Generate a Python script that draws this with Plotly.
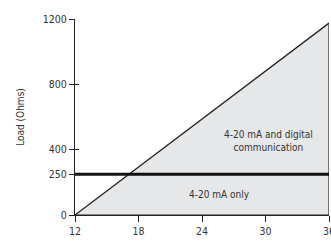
import plotly.graph_objects as go

# data
supply_v = [12, 36, 36]          # triangle corners (x)
max_load = [0, 0, 1175]          # triangle corners (y)
diag_x = [12, 36]
diag_y = [0, 1175]
threshold_x = [12, 36]
threshold_y = [250, 250]
x_ticks = [12, 18, 24, 30, 36]
x_labels = ["12", "18", "24", "30", "36"]
y_ticks = [0, 250, 400, 800, 1200]
y_labels = ["0", "250", "400", "800", "1200"]

FONT = "DejaVu Sans Condensed"
TXT = "#333333"

fig = go.Figure()
fig.add_trace(go.Scatter(x=supply_v, y=max_load, fill="toself", fillcolor="#e6e7e8",
                         mode="lines", line=dict(color="#222222", width=1.2),
                         hoverinfo="skip", showlegend=False))
fig.add_trace(go.Scatter(x=diag_x, y=diag_y, mode="lines",
                         line=dict(color="#222222", width=1.3), showlegend=False))
fig.add_trace(go.Scatter(x=threshold_x, y=threshold_y, mode="lines",
                         line=dict(color="#111111", width=3), showlegend=False))
fig.add_trace(go.Scatter(x=[12], y=[0], yaxis="y2", mode="markers",
                         marker=dict(opacity=0), showlegend=False, hoverinfo="skip"))

fig.add_annotation(x=30.3, y=455, text="4-20 mA and digital<br>communication",
                   showarrow=False, font=dict(family=FONT, size=10, color=TXT))
fig.add_annotation(x=25.7, y=125, text="4-20 mA only",
                   showarrow=False, font=dict(family=FONT, size=10, color=TXT))

fig.update_layout(
    width=331, height=242,
    margin=dict(l=75, r=2, t=19, b=27),
    paper_bgcolor="white", plot_bgcolor="white",
    font=dict(family=FONT, size=10, color=TXT),
    xaxis=dict(range=[12, 36], tickvals=x_ticks, ticktext=x_labels, automargin=False,
               ticklabeloverflow="allow",
               showgrid=False, zeroline=False, showline=True, linecolor="#222222",
               linewidth=1.3, ticks="outside", ticklen=6, tickcolor="#222222",
               tickwidth=1.3, tickfont=dict(family=FONT, size=10.5, color=TXT)),
    yaxis=dict(range=[0, 1200], tickvals=y_ticks, ticktext=y_labels, automargin=False,
               ticklabeloverflow="allow",
               showgrid=False, zeroline=False, showline=True, linecolor="#222222",
               linewidth=1.3, ticks="outside", ticklen=5, tickcolor="#222222",
               tickwidth=1.3, tickfont=dict(family=FONT, size=10.5, color=TXT),
               title=dict(text="Load (Ohms)", font=dict(family=FONT, size=10, color=TXT),
                          standoff=16)),
    yaxis2=dict(range=[0, 1200], tickvals=y_ticks, overlaying="y", side="left",
                automargin=False,
                showticklabels=False, showgrid=False, zeroline=False, showline=False,
                ticks="inside", ticklen=4, tickcolor="#222222", tickwidth=1.3),
)

fig.write_html("out.html", config={"displayModeBar": False},
               post_script="document.body.style.margin='0';")
